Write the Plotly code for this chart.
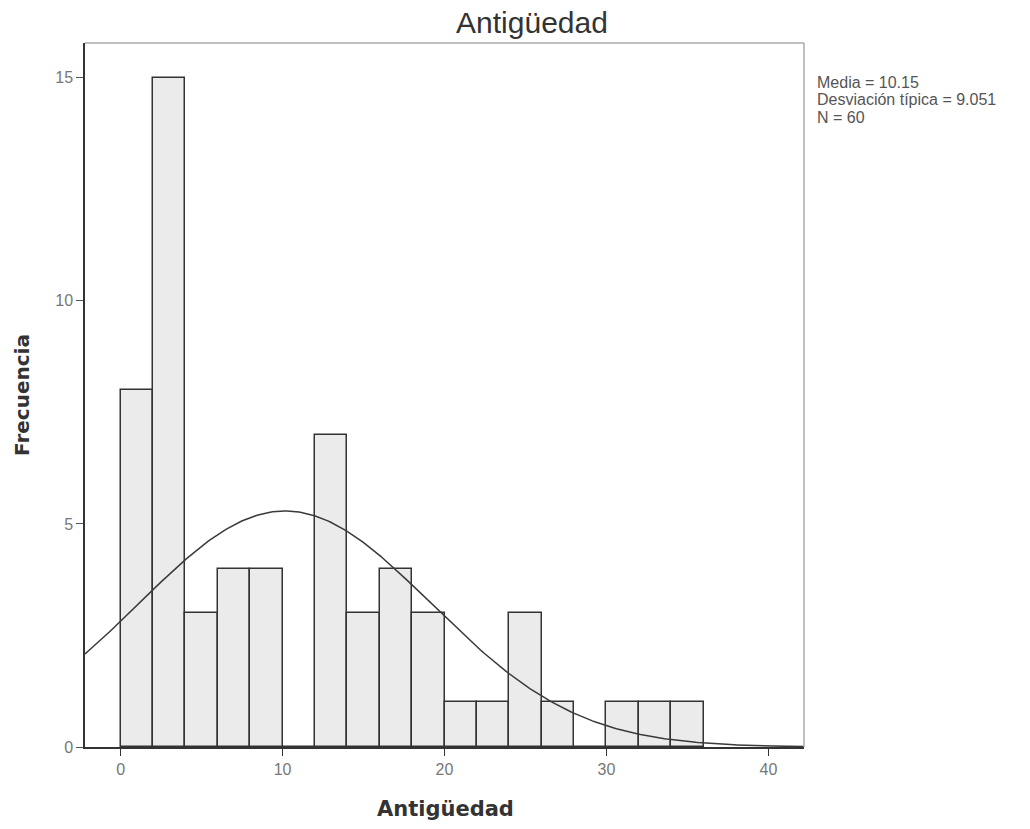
import numpy as np
import plotly.graph_objects as go

# Histogram data (bin width 2)
bin_start = [0, 2, 4, 6, 8, 10, 12, 14, 16, 18, 20, 22, 24, 26, 28, 30, 32, 34]
counts = [8, 15, 3, 4, 4, 0, 7, 3, 4, 3, 1, 1, 3, 1, 0, 1, 1, 1]
bin_width = 2

# Summary statistics shown in the chart
media = 10.15
desviacion = 9.051
n_total = 60

x_ticks = [0, 10, 20, 30, 40]
y_ticks = [0, 5, 10, 15]

x_range = [-2.2, 42.2]
y_range = [0, 15.78]

stats_lines = [
    f"Media = {media:.2f}",
    f"Desviación típica = {desviacion}",
    f"N = {n_total}",
]

# Fitted normal curve (scaled to frequency)
xc = np.linspace(x_range[0], x_range[1], 300)
yc = n_total * bin_width / (desviacion * np.sqrt(2 * np.pi)) * np.exp(-0.5 * ((xc - media) / desviacion) ** 2)

fig = go.Figure()
fig.add_trace(go.Bar(
    x=bin_start, y=counts, width=bin_width, offset=0,
    marker=dict(color="#ebebeb", line=dict(color="#333333", width=1.5)),
    hoverinfo="x+y", showlegend=False,
))
fig.add_trace(go.Scatter(
    x=xc, y=yc, mode="lines",
    line=dict(color="#3a3a3a", width=1.5), showlegend=False, hoverinfo="skip",
))

plot_h = 829 - 43 - 82
annotations = []
for i, line in enumerate(stats_lines):
    annotations.append(dict(
        text=line, xref="paper", yref="paper",
        x=1 + 11/719, y=1 - (40 + 17 * i) / plot_h,
        xanchor="left", yanchor="middle", align="left", showarrow=False,
        font=dict(family="Liberation Sans, Arial", size=16, color="#555555"),
    ))
# x-axis title placed as annotation for exact vertical position
annotations.append(dict(
    text="<b>Antigüedad</b>", xref="paper", yref="paper",
    x=(445 - 85) / 719, y=-(809 - 747) / plot_h,
    xanchor="center", yanchor="middle", showarrow=False,
    font=dict(family="DejaVu Sans", size=21, color="#333333"),
))

fig.update_layout(
    width=1030, height=829,
    margin=dict(l=85, r=226, t=43, b=82),
    paper_bgcolor="white", plot_bgcolor="white",
    bargap=0,
    title=dict(text="Antigüedad", x=532/1030, xanchor="center", y=1 - 22/829, yanchor="middle",
               font=dict(family="Liberation Sans, Arial", size=30, color="#333333")),
    xaxis=dict(
        range=x_range, tickvals=x_ticks, showgrid=False, zeroline=False,
        showline=True, linecolor="#333333", linewidth=1.5,
        ticks="outside", ticklen=7, tickcolor="#333333",
        tickfont=dict(family="Liberation Sans, Arial", size=16, color="#777777"),
    ),
    yaxis=dict(
        range=y_range, tickvals=y_ticks, showgrid=False, zeroline=False,
        showline=True, linecolor="#333333", linewidth=1.5,
        ticks="outside", ticklen=7, tickcolor="#555555",
        tickfont=dict(family="Liberation Sans, Arial", size=16, color="#777777"),
        title=dict(text="<b>Frecuencia</b>", standoff=20,
                   font=dict(family="DejaVu Sans", size=20, color="#333333")),
    ),
    shapes=[
        dict(type="line", xref="paper", yref="paper", x0=0, x1=1, y0=1, y1=1,
             line=dict(color="#aaaaaa", width=1.5)),
        dict(type="line", xref="paper", yref="paper", x0=1, x1=1, y0=0, y1=1,
             line=dict(color="#aaaaaa", width=1.5)),
    ],
    annotations=annotations,
)

fig.write_html("out.html")
